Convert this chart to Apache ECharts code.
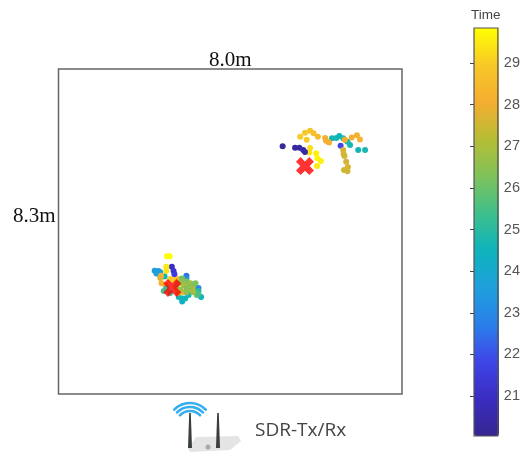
<!DOCTYPE html>
<html>
<head>
<meta charset="utf-8">
<style>
html,body{margin:0;padding:0;background:#fff}
#c{width:523px;height:455px;filter:blur(0.55px)}
</style>
<script src="https://cdn.jsdelivr.net/npm/echarts@6/dist/echarts.min.js"></script>
</head>
<body>
<div id="c"></div>
<script>
const roomWidth = 8.0;
const roomDepth = 8.3;
const timeMin = 20.04;
const timeMax = 29.84;
const timeTicks = [21,22,23,24,25,26,27,28,29];
const timeColors = ['#35268f','#3a2cc0','#3f45e8','#2a7fea','#1f9fdc','#0db4bc','#3fbf8c','#7fc25a','#b5bd35','#f5ad30','#f8c828','#ffff00'];

const upperX = [6.37,6.47,6.54,6.63,6.73,6.79,6.98,7.14,6.57,6.67,6.83,6.95,7.02,6.21,6.23,6.30,6.63,6.64,6.66,6.70,6.74,6.73,6.65,5.63,5.74,5.86,5.94,6.04,5.78,5.86,5.84,6.00,6.03,6.11,6.02,5.22,5.51,5.61,5.70,5.74];
const upperY = [6.53,6.54,6.59,6.53,6.44,6.36,6.23,6.23,6.34,6.49,6.55,6.61,6.50,6.54,6.47,6.42,6.23,6.13,6.08,5.93,5.80,5.69,5.72,6.57,6.67,6.72,6.66,6.57,6.49,6.28,6.17,6.15,6.02,5.95,5.82,6.33,6.29,6.29,6.23,6.18];
const upperT = [24.6,24.7,24.5,24.9,24.8,24.7,24.6,24.7,21.8,28.0,28.1,28.2,28.3,28.2,28.1,28.1,27.6,27.7,27.5,27.6,27.7,27.6,27.5,29.0,28.9,28.8,28.7,28.5,29.0,29.3,29.4,29.6,29.7,29.6,29.5,20.3,20.3,20.4,20.4,20.5];

const lowerX = [2.53,2.59,2.24,2.33,2.28,2.37,2.37,2.64,2.68,2.70,2.51,2.51,2.47,2.39,2.40,2.37,2.49,2.45,2.51,2.60,2.60,2.72,2.65,2.79,2.98,2.98,2.88,2.88,2.99,3.07,2.91,3.03,3.15,3.19,3.11,3.26,3.32,3.22,3.26,2.91,2.88,2.88,2.80,2.95,3.03,2.79,2.74,2.98,3.07,3.14,2.98,2.84,3.19,3.26,2.79];
const lowerY = [3.52,3.52,3.15,3.14,3.08,3.04,3.11,3.25,3.14,3.06,3.25,3.14,3.00,3.02,2.83,2.96,2.78,2.63,2.70,2.58,2.94,2.91,2.91,2.94,3.02,2.95,2.95,2.87,2.87,2.83,2.78,2.74,2.78,2.70,2.61,2.71,2.48,2.53,2.63,2.60,2.44,2.36,2.48,2.44,2.53,2.83,2.73,2.71,2.71,2.60,2.60,2.66,2.83,2.55,2.58];
const lowerT = [29.8,29.8,23.5,23.5,23.6,23.8,23.7,21.0,21.2,21.5,29.5,29.4,24.5,28.2,28.2,27.9,28.0,25.5,25.3,25.4,29.0,29.0,28.9,28.5,22.5,23.0,26.0,26.5,26.2,26.8,27.0,26.5,26.3,27.1,26.9,23.0,24.5,26.0,25.0,28.1,24.4,24.2,24.6,24.5,24.7,26.3,26.6,26.4,26.6,26.8,26.5,26.7,26.2,25.5,27.5];

const txX = [5.74,2.65];
const txY = [5.82,2.71];

const pts = upperX.map((x,i)=>[x,upperY[i],upperT[i]])
  .concat(lowerX.map((x,i)=>[x,lowerY[i],lowerT[i]]));
const crosses = txX.map((x,i)=>[x,txY[i]]);

const chart = echarts.init(document.getElementById('c'),null,{renderer:'canvas'});
const serif = '"Liberation Serif", serif';
const wifi = [22,18,14].map(r=>({
  type:'arc', z:5,
  shape:{cx:190,cy:425,r:r,startAngle:-Math.PI/2-0.8,endAngle:-Math.PI/2+0.8},
  style:{stroke:'#35aef0',lineWidth:2.6,fill:'none',lineCap:'round'}
}));
chart.setOption({
  animation:false,
  backgroundColor:'#fff',
  grid:[
    {left:58.5,top:69,width:343.5,height:325,show:true,borderColor:'#666',borderWidth:1.5,backgroundColor:'transparent'},
    {left:474,top:28,width:25,height:408,show:true,borderColor:'#555',borderWidth:1.2,backgroundColor:'transparent',z:10}
  ],
  xAxis:[
    {gridIndex:0,type:'value',min:0,max:roomWidth,show:false},
    {gridIndex:1,type:'value',min:0,max:1,show:false}
  ],
  yAxis:[
    {gridIndex:0,type:'value',min:0,max:roomDepth,show:false},
    {gridIndex:1,type:'value',min:timeMin,max:timeMax,position:'right',z:10,
     axisLine:{show:false},splitLine:{show:false},
     axisTick:{show:true,inside:true,length:4,customValues:timeTicks,lineStyle:{color:'#444',width:1}},
     axisLabel:{show:true,customValues:timeTicks,margin:6,color:'#555',fontSize:14.5,fontFamily:'"Liberation Sans",Arial,sans-serif',formatter:v=>String(v)}}
  ],
  visualMap:{
    type:'continuous',seriesIndex:0,dimension:2,min:timeMin,max:timeMax,
    calculable:false,left:474,top:28,itemWidth:25,itemHeight:408,padding:0,text:[null,null],showLabel:false,
    inRange:{color:timeColors},
    textStyle:{color:'transparent',fontSize:0}
  },
  series:[
    {type:'scatter',xAxisIndex:0,yAxisIndex:0,symbol:'circle',symbolSize:6,data:pts,z:2,itemStyle:{opacity:1},silent:true},
    {type:'scatter',xAxisIndex:0,yAxisIndex:0,symbol:'path://M-2.4,-5 L0,-2.6 L2.4,-5 L5,-2.4 L2.6,0 L5,2.4 L2.4,5 L0,2.6 L-2.4,5 L-5,2.4 L-2.6,0 L-5,-2.4 Z',symbolSize:18,data:crosses,z:3,itemStyle:{color:'#ff0000'},silent:true}
  ],
  graphic:[
    {type:'text',left:209,top:50,z:5,style:{text:'8.0m',font:'21px '+serif,fill:'#111'}},
    {type:'text',left:13,top:206,z:5,style:{text:'8.3m',font:'21px '+serif,fill:'#111'}},
    {type:'text',left:471,top:8,z:5,style:{text:'Time',font:'13.5px "Liberation Sans",Arial,sans-serif',fill:'#444'}},
    {type:'text',left:255,top:421,z:5,style:{text:'SDR-Tx/Rx',font:'19px "Open Sans",sans-serif',fill:'#444'}},
    {type:'polygon',z:4,shape:{points:[[188,449],[196,437],[238,436],[241,441],[230,450],[190,452]]},style:{fill:'#e4e4e4'}},
    {type:'polygon',z:5,shape:{points:[[189.2,413],[190.8,413],[192,448],[188,448]]},style:{fill:'#3a3f3c'}},
    {type:'polygon',z:5,shape:{points:[[217.2,413],[218.8,413],[220,448],[216,448]]},style:{fill:'#3a3f3c'}},
    {type:'circle',z:5,shape:{cx:208,cy:447,r:2.5},style:{fill:'#aaa'}},
    ...wifi
  ]
});
</script>
</body>
</html>
